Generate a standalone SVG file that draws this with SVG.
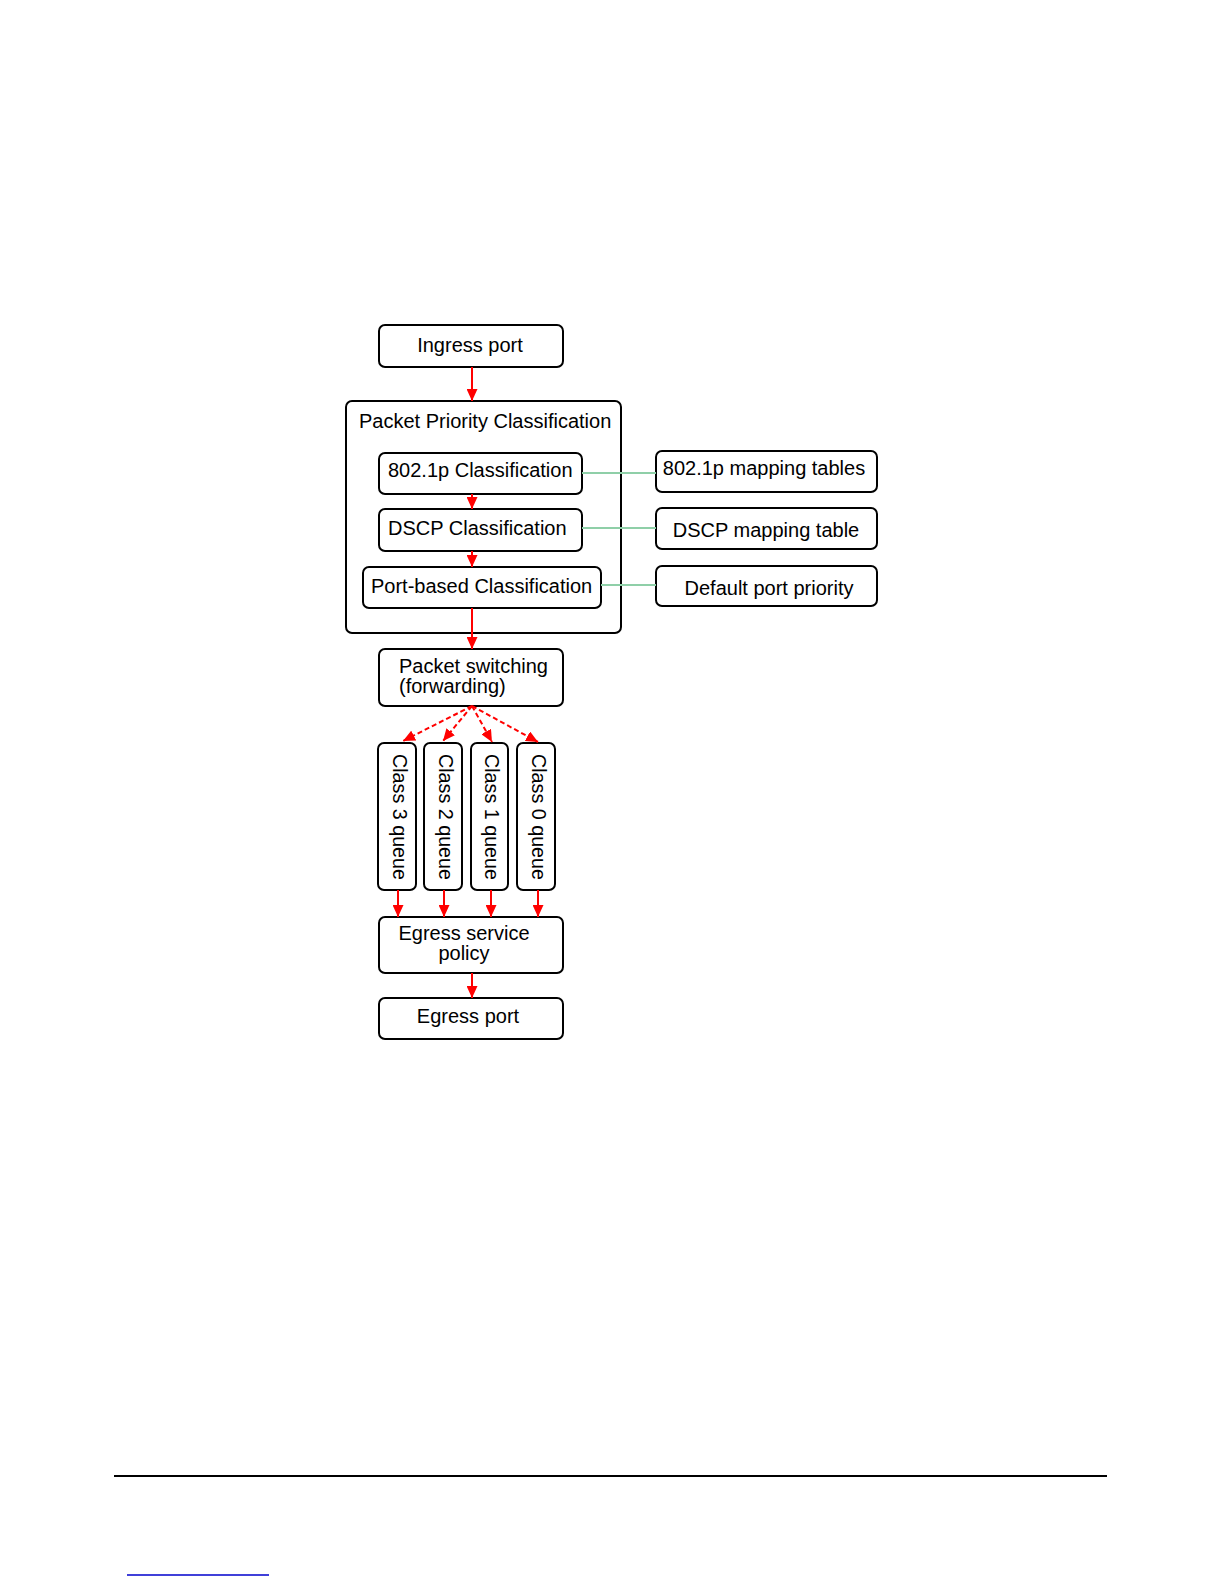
<svg xmlns="http://www.w3.org/2000/svg" width="1225" height="1585" viewBox="0 0 1225 1585">
<style>
.box{fill:#fff;stroke:#000;stroke-width:2}
.t{font-family:"Liberation Sans",Arial,sans-serif;font-size:20px;fill:#000}
.m{text-anchor:middle}
.red{stroke:#f00;stroke-width:2;fill:none}
.dash{stroke-dasharray:5,3}
.grn{stroke:#8fcfa8;stroke-width:2;fill:none}
</style>
<defs>
<marker id="ah" markerWidth="12" markerHeight="11" refX="12" refY="5.5" orient="auto" markerUnits="userSpaceOnUse">
<path d="M0,0 L12,5.5 L0,11 z" fill="#f00"/>
</marker>
</defs>
<rect width="1225" height="1585" fill="#fff"/>

<g id="ingress"><rect class="box" x="379" y="325" width="184" height="42" rx="6"/><text class="t m" x="470" y="352">Ingress port</text></g>
<g id="ppc"><rect class="box" x="346" y="401" width="275" height="232" rx="6"/><text class="t" x="359" y="428">Packet Priority Classification</text></g>
<g id="c8021p"><rect class="box" x="379" y="453" width="203" height="41" rx="6"/><text class="t" x="388" y="477">802.1p Classification</text></g>
<g id="cdscp"><rect class="box" x="379" y="509" width="203" height="42" rx="6"/><text class="t" x="388" y="535">DSCP Classification</text></g>
<g id="cport"><rect class="box" x="363" y="567" width="238" height="41" rx="6"/><text class="t" x="371" y="593">Port-based Classification</text></g>
<g id="m8021p"><rect class="box" x="656" y="451" width="221" height="41" rx="6"/><text class="t m" x="764" y="475">802.1p mapping tables</text></g>
<g id="mdscp"><rect class="box" x="656" y="508" width="221" height="41" rx="6"/><text class="t m" x="766" y="537">DSCP mapping table</text></g>
<g id="mport"><rect class="box" x="656" y="566" width="221" height="40" rx="6"/><text class="t m" x="769" y="595">Default port priority</text></g>
<g id="switching"><rect class="box" x="379" y="649" width="184" height="57" rx="6"/><text class="t" x="399" y="673">Packet switching</text><text class="t" x="399" y="693">(forwarding)</text></g>
<g id="q3"><rect class="box" x="378" y="743" width="38" height="147" rx="6"/><text class="t m" font-size="16" textLength="126" lengthAdjust="spacingAndGlyphs" transform="translate(392.5,817) rotate(90)">Class 3 queue</text></g>
<g id="q2"><rect class="box" x="424" y="743" width="38" height="147" rx="6"/><text class="t m" font-size="16" textLength="126" lengthAdjust="spacingAndGlyphs" transform="translate(438.5,817) rotate(90)">Class 2 queue</text></g>
<g id="q1"><rect class="box" x="471" y="743" width="37" height="147" rx="6"/><text class="t m" font-size="16" textLength="126" lengthAdjust="spacingAndGlyphs" transform="translate(485,817) rotate(90)">Class 1 queue</text></g>
<g id="q0"><rect class="box" x="517" y="743" width="38" height="147" rx="6"/><text class="t m" font-size="16" textLength="126" lengthAdjust="spacingAndGlyphs" transform="translate(531.5,817) rotate(90)">Class 0 queue</text></g>
<g id="egresspolicy"><rect class="box" x="379" y="917" width="184" height="56" rx="6"/><text class="t m" x="464" y="940">Egress service</text><text class="t m" x="464" y="960">policy</text></g>
<g id="egress"><rect class="box" x="379" y="998" width="184" height="41" rx="6"/><text class="t m" x="468" y="1023">Egress port</text></g>

<g id="connectors">
<line class="red" x1="472" y1="367" x2="472" y2="401" marker-end="url(#ah)"/>
<line class="red" x1="472" y1="494" x2="472" y2="509" marker-end="url(#ah)"/>
<line class="red" x1="472" y1="551" x2="472" y2="567" marker-end="url(#ah)"/>
<line class="red" x1="472" y1="608" x2="472" y2="649" marker-end="url(#ah)"/>
<line class="red dash" x1="472" y1="706" x2="403" y2="741" marker-end="url(#ah)"/>
<line class="red dash" x1="472" y1="706" x2="443" y2="741" marker-end="url(#ah)"/>
<line class="red dash" x1="472" y1="706" x2="492" y2="742" marker-end="url(#ah)"/>
<line class="red dash" x1="472" y1="706" x2="538" y2="742" marker-end="url(#ah)"/>
<line class="red" x1="398" y1="890" x2="398" y2="917" marker-end="url(#ah)"/>
<line class="red" x1="444" y1="890" x2="444" y2="917" marker-end="url(#ah)"/>
<line class="red" x1="491" y1="890" x2="491" y2="917" marker-end="url(#ah)"/>
<line class="red" x1="538" y1="890" x2="538" y2="917" marker-end="url(#ah)"/>
<line class="red" x1="472" y1="973" x2="472" y2="998" marker-end="url(#ah)"/>
<line class="grn" x1="582" y1="473" x2="656" y2="473"/>
<line class="grn" x1="582" y1="528" x2="656" y2="528"/>
<line class="grn" x1="601" y1="585" x2="656" y2="585"/>
</g>

<line x1="114" y1="1476" x2="1107" y2="1476" stroke="#000" stroke-width="2"/>
<line x1="127" y1="1575" x2="269" y2="1575" stroke="#0000cc" stroke-width="1.5"/>
</svg>
